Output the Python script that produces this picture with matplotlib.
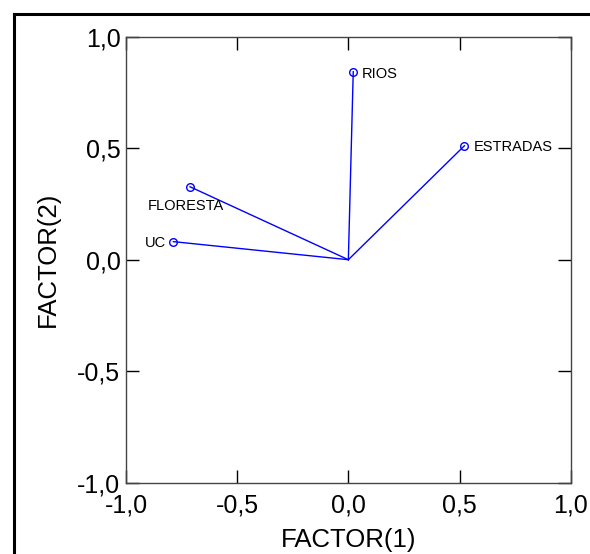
import matplotlib
matplotlib.use("Agg")
import matplotlib.pyplot as plt
from matplotlib.lines import Line2D

plt.rcParams['font.family'] = ['Liberation Sans', 'DejaVu Sans']

# loadings
names = ["RIOS", "ESTRADAS", "FLORESTA", "UC"]
factor1 = [0.022, 0.522, -0.712, -0.787]
factor2 = [0.843, 0.511, 0.327, 0.081]
ticks = [-1.0, -0.5, 0.0, 0.5, 1.0]
tick_labels = ["-1,0", "-0,5", "0,0", "0,5", "1,0"]

# label placement, offset in points from the marker
label_offsets = {"RIOS": (6, -1.5, "left"),
                 "ESTRADAS": (6.5, -1, "left"),
                 "FLORESTA": (-3, -14, "center"),
                 "UC": (-5, -1, "right")}

fig = plt.figure(figsize=(5.9, 5.54), dpi=100)
ax = fig.add_axes([126 / 590, 1 - 482.7 / 554, 444.7 / 590, 446 / 554])

for x, y, name in zip(factor1, factor2, names):
    ax.plot([0, x], [0, y], color="#0000ff", lw=1.0)
    ax.plot(x, y, "o", ms=5.5, mfc="none", mec="#0000ff", mew=1.0)
    dx, dy, ha = label_offsets[name]
    ax.annotate(name, (x, y), xytext=(dx, dy), textcoords="offset points",
                ha=ha, va="center", fontsize=10.5)

ax.set_xlim(-1, 1)
ax.set_ylim(-1, 1)
ax.set_xticks(ticks)
ax.set_xticklabels(tick_labels)
ax.set_yticks(ticks)
ax.set_yticklabels(tick_labels)
ax.tick_params(direction="in", length=9.5, width=1, top=True, right=True,
               labelsize=18, colors="black")
ax.tick_params(axis="x", pad=8)
ax.tick_params(axis="y", pad=4)
for s in ax.spines.values():
    s.set_linewidth(1)
    s.set_color("#444444")

ax.set_xlabel("FACTOR(1)", fontsize=18.5)
ax.set_ylabel("FACTOR(2)", fontsize=18.5)
ax.xaxis.set_label_coords(0.5, -0.128)
ax.xaxis.label.set_va("center")
ax.yaxis.set_label_coords(-0.1765, 0.5)
ax.yaxis.label.set_va("center")

# outer frame (only left and top edges fall inside the picture)
fig.add_artist(Line2D([13.5 / 590, 13.5 / 590], [0, 1 - 13.5 / 554],
                      transform=fig.transFigure, color="black", lw=2.2))
fig.add_artist(Line2D([13.5 / 590, 1], [1 - 13.5 / 554, 1 - 13.5 / 554],
                      transform=fig.transFigure, color="black", lw=2.2))

fig.savefig("out.png", dpi=100)
